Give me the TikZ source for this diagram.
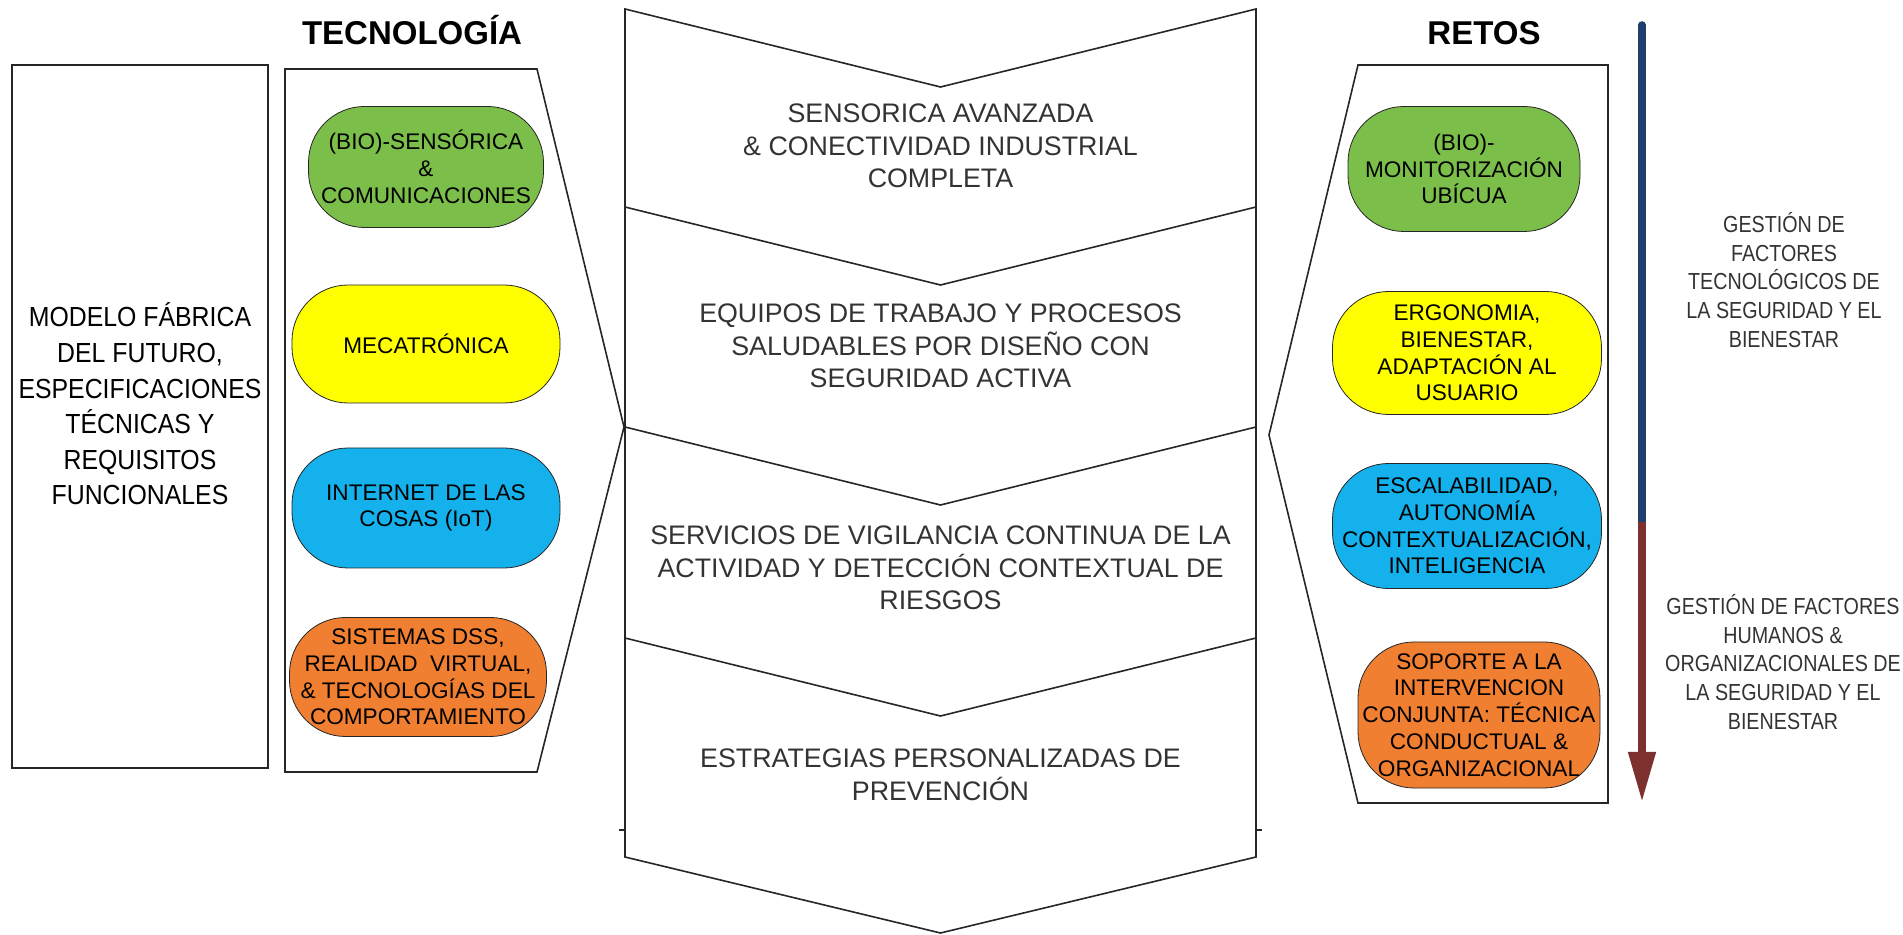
\documentclass[tikz,border=0pt]{standalone}
\usepackage{fontspec}
\setmainfont{Liberation Sans}
\newfontfamily\narrowfont[FakeStretch=0.85]{Liberation Sans}
\newfontfamily\modelfont[FakeStretch=0.9]{Liberation Sans}
\usetikzlibrary{arrows.meta}
\definecolor{ovgreen}{HTML}{7BBE4A}
\definecolor{ovyellow}{HTML}{FFFF00}
\definecolor{ovblue}{HTML}{14B1EC}
\definecolor{ovorange}{HTML}{F07F32}
\definecolor{arrblue}{HTML}{1F3E6C}
\definecolor{arrred}{HTML}{7D312E}

\begin{document}
\begin{tikzpicture}[x=0.5pt,y=-0.5pt]
 \tikzstyle{every node}=[inner sep=0pt]
 \tikzstyle{oval}=[draw=black!85,rounded corners=28pt,align=center,font=\fontsize{11.3}{13.4}\selectfont]
 \tikzstyle{stage}=[align=center,text=black!80,font=\fontsize{13.4}{16.3}\selectfont]
 \tikzstyle{title}=[anchor=base,font=\bfseries\fontsize{16.5}{18}\selectfont]
 \tikzstyle{note}=[align=center,text=black!80,font=\narrowfont\fontsize{11.6}{14.3}\selectfont]
 \tikzstyle{line}=[draw=black!85,line width=0.8pt]
 \useasboundingbox (0,0) rectangle (1903,935);

 % modelo
 \node[draw=black!85,line width=0.6pt,minimum width=128pt,minimum height=351.5pt] (model) at (140,416.5) {};
 \node[align=center,font=\modelfont\fontsize{13.8}{17.8}\selectfont] (modeltxt) at (140,404)
  {MODELO FÁBRICA\\DEL FUTURO,\\ESPECIFICACIONES\\TÉCNICAS Y\\REQUISITOS\\FUNCIONALES};

 % tecnologia
 \node[title] (tectitle) at (412,45) {TECNOLOGÍA};
 \draw[line] (285,69) -- (537,69) -- (624,427) -- (537,772) -- (285,772) -- cycle;
 \node[oval,fill=ovgreen,minimum width=117.5pt,minimum height=60.5pt] (t1) at (426,167)
  {(BIO)-SENSÓRICA\\\&\\COMUNICACIONES};
 \node[oval,fill=ovyellow,minimum width=134pt,minimum height=59pt] (t2) at (426,344)
  {MECATRÓNICA};
 \node[oval,fill=ovblue,minimum width=134pt,minimum height=60pt] (t3) at (426,508)
  {INTERNET DE LAS\\COSAS (IoT)};
 \node[oval,fill=ovorange,minimum width=128.5pt,minimum height=59.5pt] (t4) at (418,677)
  {SISTEMAS DSS,\\REALIDAD\ \ VIRTUAL,\\\& TECNOLOGÍAS DEL\\COMPORTAMIENTO};

 % etapas
 \draw[line] (625,9) -- (940.5,87) -- (1256,9) -- (1256,857) -- (940.5,933) -- (625,857) -- cycle;
 \foreach \y in {207,427,638}
  \draw[line] (625,\y) -- (940.5,\y+78) -- (1256,\y);
 \draw[line] (619,830) -- (625,830) (1256,830) -- (1262,830);
 \node[stage] (s1) at (940.5,146) {SENSORICA AVANZADA\\\& CONECTIVIDAD INDUSTRIAL\\COMPLETA};
 \node[stage] (s2) at (940.5,346) {EQUIPOS DE TRABAJO Y PROCESOS\\SALUDABLES POR DISEÑO CON\\SEGURIDAD ACTIVA};
 \node[stage] (s3) at (940.5,568) {SERVICIOS DE VIGILANCIA CONTINUA DE LA\\ACTIVIDAD Y DETECCIÓN CONTEXTUAL DE\\RIESGOS};
 \node[stage] (s4) at (940.5,775) {ESTRATEGIAS PERSONALIZADAS DE\\PREVENCIÓN};

 % retos
 \node[title] (rettitle) at (1484,45) {RETOS};
 \draw[line] (1608,65) -- (1358,65) -- (1269,435) -- (1358,803) -- (1608,803) -- cycle;
 \node[oval,fill=ovgreen,minimum width=116pt,minimum height=62.5pt] (r1) at (1464,169)
  {(BIO)-\\MONITORIZACIÓN\\UBÍCUA};
 \node[oval,fill=ovyellow,minimum width=134.5pt,minimum height=61.5pt] (r2) at (1467,353)
  {ERGONOMIA,\\BIENESTAR,\\ADAPTACIÓN AL\\USUARIO};
 \node[oval,fill=ovblue,minimum width=134.5pt,minimum height=62.5pt] (r3) at (1467,526)
  {ESCALABILIDAD,\\AUTONOMÍA\\CONTEXTUALIZACIÓN,\\INTELIGENCIA};
 \node[oval,fill=ovorange,minimum width=121pt,minimum height=73pt] (r4) at (1479,715)
  {SOPORTE A LA\\INTERVENCION\\CONJUNTA: TÉCNICA\\CONDUCTUAL \&\\ORGANIZACIONAL};

 % gestion
 \coordinate (atop) at (1642,25);
 \coordinate (amid) at (1642,522);
 \coordinate (abot) at (1642,802);
 \draw[arrblue,line width=3.8pt,line cap=round] (atop) -- (amid);
 \draw[arrred,line width=3.8pt,-{Triangle[width=13pt,length=25pt]}] (amid) -- (abot);
 \node[note] (n1) at (1784,280) {GESTIÓN DE\\FACTORES\\TECNOLÓGICOS DE\\LA SEGURIDAD Y EL\\BIENESTAR};
 \node[note] (n2) at (1783,662) {GESTIÓN DE FACTORES\\HUMANOS \&\\ORGANIZACIONALES DE\\LA SEGURIDAD Y EL\\BIENESTAR};
\end{tikzpicture}
\end{document}
